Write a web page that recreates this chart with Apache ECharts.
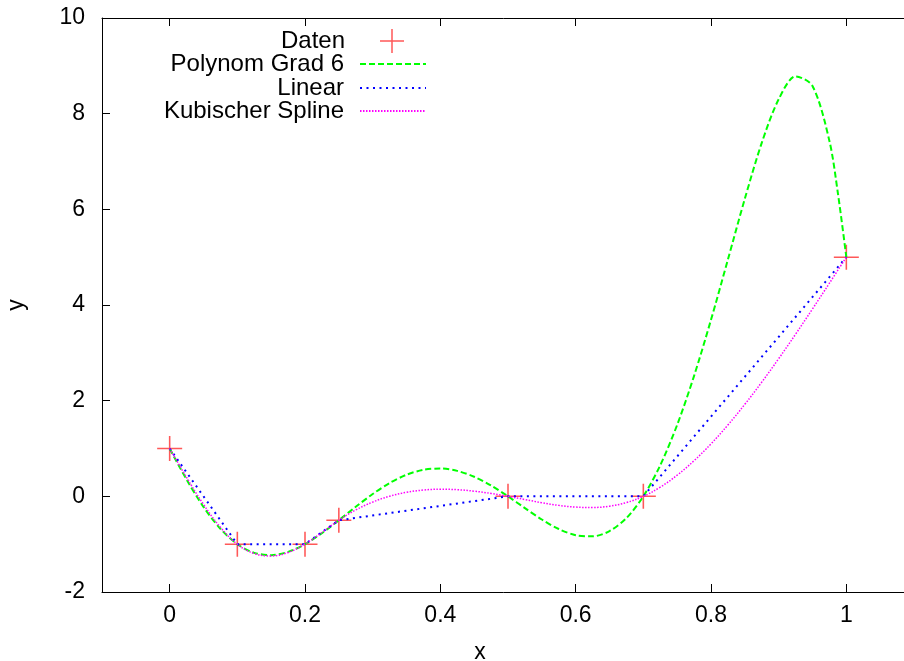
<!DOCTYPE html>
<html>
<head>
<meta charset="utf-8">
<script src="https://cdn.jsdelivr.net/npm/echarts@6/dist/echarts.min.js"></script>
<style>
html,body{margin:0;padding:0;background:#fff;}
#chart{width:904px;height:661px;}
</style>
</head>
<body>
<div id="chart"></div>
<script>
// Data points
const dataX = [0, 0.1, 0.2, 0.25, 0.5, 0.7, 1];
const dataY = [1, -1, -1, -0.5, 0, 0, 5];

// Polynom Grad 6
const polyX = [0,0.025,0.05,0.075,0.1,0.125,0.15,0.175,0.2,0.225,0.25,0.275,0.3,0.325,0.35,0.375,0.4,0.425,0.45,0.475,0.5,0.525,0.55,0.575,0.6,0.625,0.65,0.675,0.7,0.725,0.75,0.775,0.8,0.825,0.85,0.875,0.9,0.925,0.95,0.975,0.9875,1];
const polyY = [1,0.351,-0.221,-0.678,-1,-1.182,-1.230,-1.162,-1,-0.770,-0.5,-0.219,0.048,0.278,0.451,0.555,0.582,0.532,0.409,0.226,0,-0.246,-0.484,-0.683,-0.812,-0.837,-0.727,-0.455,0,0.650,1.494,2.519,3.690,4.951,6.221,7.39,8.30,8.78,8.58,7.43,6.34,5];

// Kubischer Spline
const splineX = [0,0.025,0.05,0.075,0.1,0.125,0.15,0.175,0.2,0.225,0.25,0.275,0.3,0.325,0.35,0.375,0.4,0.425,0.45,0.475,0.5,0.525,0.55,0.575,0.6,0.625,0.65,0.675,0.7,0.725,0.75,0.775,0.8,0.825,0.85,0.875,0.9,0.925,0.95,0.975,1];
const splineY = [1,0.395,-0.168,-0.647,-1,-1.196,-1.246,-1.173,-1,-0.756,-0.5,-0.285,-0.120,0.002,0.084,0.131,0.148,0.139,0.108,0.060,0,-0.067,-0.133,-0.189,-0.225,-0.233,-0.205,-0.130,0,0.192,0.442,0.746,1.097,1.492,1.924,2.387,2.878,3.390,3.918,4.456,5];

// Ticks
const xTicks = [0, 0.2, 0.4, 0.6, 0.8, 1];
const yTicks = [-2, 0, 2, 4, 6, 8, 10];

const seriesNames = ['Daten', 'Polynom Grad 6', 'Linear', 'Kubischer Spline'];

const zip = (xs, ys) => xs.map((x, i) => [x, ys[i]]);
const FONT = 'Liberation Sans, Arial, sans-serif';
const FS = 23;
const LFS = 24;
const crossPath = 'path://M11.25,0 H12.75 V11.25 H24 V12.75 H12.75 V24 H11.25 V12.75 H0 V11.25 H11.25 Z';

const chart = echarts.init(document.getElementById('chart'), null, {renderer: 'canvas'});

const tickCommon = {show: true, inside: true, length: 8, lineStyle: {color: '#000', width: 1}};
const lineCommon = {show: true, onZero: false, lineStyle: {color: '#000', width: 1}};

function legendFor(name, top, right, itemWidth, padRight, icon) {
  const l = {
    data: [name], orient: 'vertical', align: 'right', top: top, right: right,
    padding: 0, itemWidth: itemWidth, itemHeight: 24, selectedMode: false,
    textStyle: {fontFamily: FONT, fontSize: LFS, color: '#000', padding: [0, padRight, 0, 0]}
  };
  if (icon) l.icon = icon;
  else l.itemStyle = {opacity: 0, color: 'rgba(0,0,0,0)', borderWidth: 0};
  return l;
}

chart.setOption({
  animation: false,
  backgroundColor: '#fff',
  textStyle: {fontFamily: FONT},
  grid: {left: 102, right: -10, top: 18, bottom: 69, containLabel: false, outerBoundsMode: 'none'},
  legend: [
    legendFor(seriesNames[0], 29, 500, 24, 30, crossPath),
    legendFor(seriesNames[1], 52, 477, 66, 11),
    legendFor(seriesNames[2], 76, 477, 66, 11),
    legendFor(seriesNames[3], 99, 477, 66, 11)
  ],
  xAxis: [
    {
      type: 'value', position: 'bottom', min: -0.1, max: 1.1,
      axisLine: lineCommon,
      axisTick: Object.assign({customValues: xTicks}, tickCommon),
      axisLabel: {customValues: xTicks, margin: 12, fontFamily: FONT, fontSize: FS, color: '#000',
        formatter: v => String(+(+v).toFixed(1))},
      splitLine: {show: false},
      name: 'x', nameLocation: 'middle', nameGap: 49,
      nameTextStyle: {fontFamily: FONT, fontSize: FS, color: '#000', padding: [0, 56, 0, 0]}
    },
    {
      type: 'value', position: 'top', min: -0.1, max: 1.1,
      axisLine: lineCommon,
      axisTick: Object.assign({customValues: xTicks}, tickCommon),
      axisLabel: {show: false},
      splitLine: {show: false}
    }
  ],
  yAxis: [
    {
      type: 'value', position: 'left', min: -2, max: 10, interval: 2,
      axisLine: lineCommon,
      axisTick: tickCommon,
      axisLabel: {margin: 17, fontFamily: FONT, fontSize: FS, color: '#000'},
      splitLine: {show: false},
      name: 'y', nameLocation: 'middle', nameGap: 74,
      nameTextStyle: {fontFamily: FONT, fontSize: FS, color: '#000'}
    },
    {
      type: 'value', position: 'right', min: -2, max: 10, interval: 2,
      axisLine: lineCommon,
      axisTick: tickCommon,
      axisLabel: {show: false},
      splitLine: {show: false}
    }
  ],
  series: [
    {
      name: seriesNames[0], type: 'scatter', xAxisIndex: 0, yAxisIndex: 0,
      data: zip(dataX, dataY), symbol: crossPath, symbolSize: 25,
      itemStyle: {color: '#ff3b3b', opacity: 0.85}
    },
    {
      name: seriesNames[1], type: 'line', xAxisIndex: 0, yAxisIndex: 0,
      data: zip(polyX, polyY), symbol: 'none', smooth: 0.3,
      itemStyle: {color: '#00ff00'},
      lineStyle: {color: '#00ff00', width: 2, type: [6, 3]}
    },
    {
      name: seriesNames[2], type: 'line', xAxisIndex: 0, yAxisIndex: 0,
      data: zip(dataX, dataY), symbol: 'none', smooth: false,
      itemStyle: {color: '#0000ff'},
      lineStyle: {color: '#0000ff', width: 2, type: [2, 4.5]}
    },
    {
      name: seriesNames[3], type: 'line', xAxisIndex: 0, yAxisIndex: 0,
      data: zip(splineX, splineY), symbol: 'none', smooth: 0.4,
      itemStyle: {color: '#ff00ff'},
      lineStyle: {color: '#ff00ff', width: 1.5, type: [1.5, 1.5]}
    }
  ]
});
</script>
</body>
</html>
